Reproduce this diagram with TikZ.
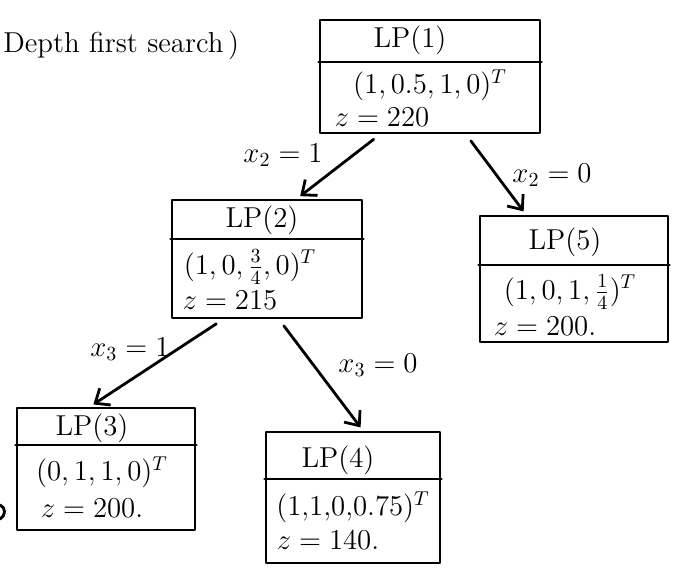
\documentclass[tikz,border=0pt]{standalone}
\usetikzlibrary{arrows.meta,fit,calc}
\begin{document}
\begin{tikzpicture}[x=0.5pt,y=-0.5pt,
  line width=1.4pt, line cap=round, line join=round,
  lpbox/.style={draw, rectangle, inner sep=0pt},
  txt/.style={font=\Large, inner sep=1pt},
  arr/.style={-{Straight Barb[length=6pt,width=10pt]}, shorten <=4pt, shorten >=2pt},
  lab/.style={font=\Large, inner sep=1pt}]
\useasboundingbox (0,0) rectangle (683,585);

% heading
\node[txt, anchor=west] (head) at (0,45) {Depth first search\,)};

% root LP(1)
\node[lpbox, fit={(320,20) (540,133)}] (n1) {};
\draw (n1.west |- 0,62) -- (n1.east |- 0,62);
\node[txt] (t1) at (410,40) {LP(1)};
\node[txt] (v1) at (430,85) {$(1, 0.5, 1, 0)^T$};
\node[txt] (z1) at (382,117) {$z = 220$};

% LP(2)
\node[lpbox, fit={(172,200) (362,318)}] (n2) {};
\draw (n2.west |- 0,239) -- (n2.east |- 0,239);
\node[txt] (t2) at (262,220) {LP(2)};
\node[txt] (v2) at (250,267) {$(1, 0, \frac{3}{4}, 0)^T$};
\node[txt] (z2) at (230,300) {$z = 215$};

% LP(5)
\node[lpbox, fit={(480,216) (668,342)}] (n5) {};
\draw (n5.west |- 0,265) -- (n5.east |- 0,265);
\node[txt] (t5) at (565,242) {LP(5)};
\node[txt] (v5) at (570,292) {$(1, 0, 1, \frac{1}{4})^T$};
\node[txt] (z5) at (545,326) {$z = 200.$};

% LP(3)
\node[lpbox, fit={(17,408) (195,530)}] (n3) {};
\draw (n3.west |- 0,445) -- (n3.east |- 0,445);
\node[txt] (t3) at (92,428) {LP(3)};
\node[txt] (v3) at (102,472) {$(0, 1, 1, 0)^T$};
\node[txt] (z3) at (92,508) {$z = 200.$};

% LP(4)
\node[lpbox, fit={(266,432) (440,563)}] (n4) {};
\draw (n4.west |- 0,479) -- (n4.east |- 0,479);
\node[txt] (t4) at (338,460) {LP(4)};
\node[txt] (v4) at (353,507) {$(1,\!1,\!0,\!0.75)^T$};
\node[txt] (z4) at (328,540) {$z = 140.$};

% fragment at left edge
\draw (0,505) .. controls (6,507) and (6,516) .. (0,519);

% connectors
\draw[arr] ([xshift=-25pt]n1.south) -- ([xshift=15pt]n2.north);
\draw[arr] ([xshift=18pt]n1.south) -- ([xshift=-24pt]n5.north);
\draw[arr] ([xshift=-22pt]n2.south) -- ([xshift=-8pt]n3.north);
\draw[arr] ([xshift=6pt]n2.south) -- ([xshift=5pt]n4.north);

% branch labels
\node[lab] (l1) at (283,155) {$x_2 = 1$};
\node[lab] (l2) at (552,175) {$x_2 = 0$};
\node[lab] (l3) at (130,349) {$x_3 = 1$};
\node[lab] (l4) at (378,365) {$x_3 = 0$};
\end{tikzpicture}
\end{document}
